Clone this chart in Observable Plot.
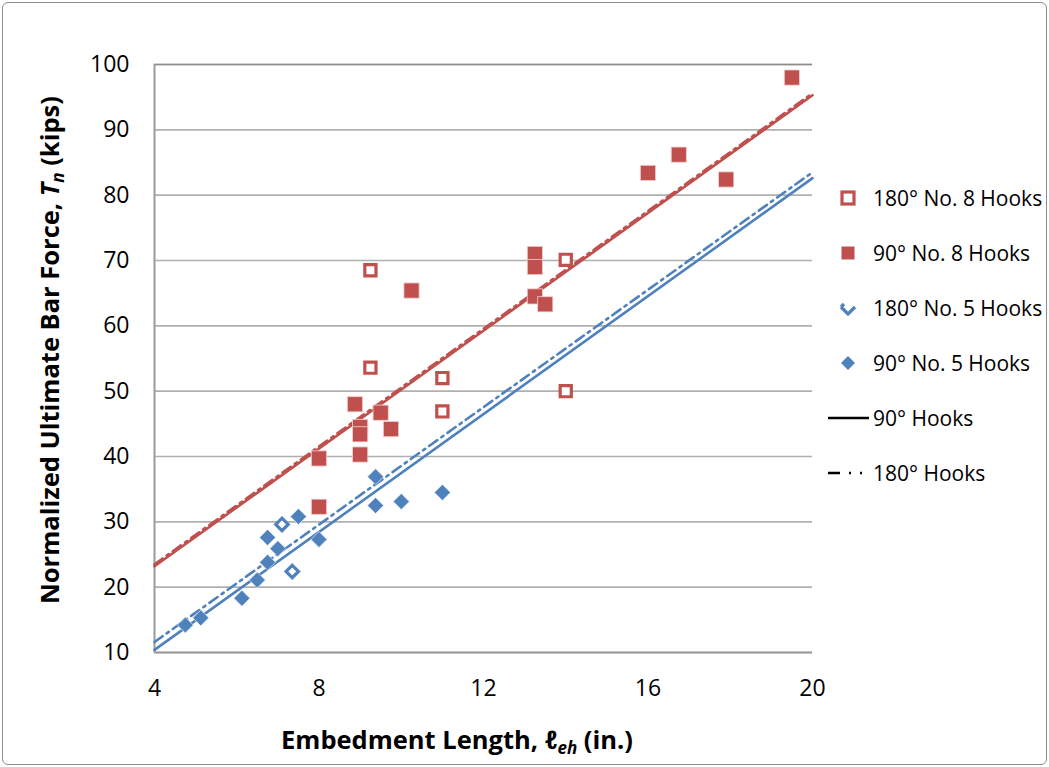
<!DOCTYPE html>
<html><head><meta charset="utf-8">
<script src="https://cdn.jsdelivr.net/npm/d3@7"></script>
<script src="https://cdn.jsdelivr.net/npm/@observablehq/plot@0.6"></script>
<style>
body{margin:0;background:#fff;font-family:"Open Sans",sans-serif;}
#wrap{position:relative;width:1049px;height:767px;overflow:hidden;}
#frame{position:absolute;left:2px;top:2px;width:1043px;height:761px;border:1px solid #8e8e8e;border-radius:6px;pointer-events:none;}
#wrap svg{position:absolute;left:0;top:0;}
</style></head><body><div id="wrap"><div id="frame"></div></div>
<script>
const red = "#C0504D", blue = "#4F81BD";

// 180° No. 8 Hooks (open red squares)
const x180No8 = [9.25, 9.25, 11, 11, 14, 14];
const y180No8 = [68.5, 53.6, 52.0, 46.9, 70.1, 50.0];
// 90° No. 8 Hooks (filled red squares)
const x90No8 = [8, 8, 8.875, 9, 9, 9, 9.5, 9.75, 10.25, 13.25, 13.25, 13.25, 13.5, 16, 16.75, 17.9, 19.5];
const y90No8 = [32.3, 39.7, 48.0, 44.5, 43.4, 40.3, 46.7, 44.2, 65.4, 71.0, 69.0, 64.5, 63.3, 83.4, 86.2, 82.4, 98.0];
// 180° No. 5 Hooks (open blue diamonds)
const x180No5 = [7.1, 7.35];
const y180No5 = [29.6, 22.4];
// 90° No. 5 Hooks (filled blue diamonds)
const x90No5 = [4.75, 5.125, 6.125, 6.5, 6.75, 6.75, 7.0, 7.5, 8, 9.375, 9.375, 10, 11];
const y90No5 = [14.2, 15.3, 18.3, 21.1, 23.8, 27.6, 25.9, 30.8, 27.3, 36.9, 32.5, 33.1, 34.5];

// Trend lines (fits) evaluated at the axis ends
const fitX = [4, 20];
const fit90No8 = [23.2, 95.3];
const fit180No8 = [23.5, 95.6];
const fit90No5 = [10.4, 82.6];
const fit180No5 = [11.6, 83.5];

const xTicks = [4, 8, 12, 16, 20];
const yTicks = [10, 20, 30, 40, 50, 60, 70, 80, 90, 100];

const legendLabels = ["180° No. 8 Hooks", "90° No. 8 Hooks", "180° No. 5 Hooks", "90° No. 5 Hooks", "90° Hooks", "180° Hooks"];

const pts = (xs, ys) => xs.map((x, i) => ({x, y: ys[i]}));
const fit = ys => fitX.map((x, i) => ({x, y: ys[i]}));
const dashDot = "10,5,2.5,5";

const plot = Plot.plot({
  width: 1049, height: 767,
  marginLeft: 154, marginRight: 237, marginTop: 64, marginBottom: 115,
  style: {fontFamily: "'Open Sans', sans-serif", fontSize: "22px", color: "#000", background: "transparent", overflow: "visible"},
  x: {domain: [4, 20]},
  y: {domain: [10, 100]},
  marks: [
    Plot.gridY(yTicks, {stroke: "#b0b0b0", strokeOpacity: 1, strokeWidth: 1.6}),
    Plot.ruleY([100], {stroke: "#8c8c8c", strokeWidth: 1.6}),
    Plot.ruleX([4], {stroke: "#9a9a9a", strokeWidth: 2}),
    Plot.ruleY([10], {stroke: "#9a9a9a", strokeWidth: 2}),
    Plot.axisX(xTicks, {tickSize: 0, tickPadding: 27, label: null, fontSize: 23}),
    Plot.axisY(yTicks, {tickSize: 0, tickPadding: 25, label: null, fontSize: 23}),
    Plot.line(fit(fit90No8), {x: "x", y: "y", stroke: red, strokeWidth: 2.6}),
    Plot.line(fit(fit180No8), {x: "x", y: "y", stroke: red, strokeWidth: 2.6, strokeDasharray: dashDot}),
    Plot.line(fit(fit90No5), {x: "x", y: "y", stroke: blue, strokeWidth: 2.6}),
    Plot.line(fit(fit180No5), {x: "x", y: "y", stroke: blue, strokeWidth: 2.6, strokeDasharray: dashDot}),
    Plot.dot(pts(x90No8, y90No8), {x: "x", y: "y", symbol: "square", r: 8.6, fill: red, stroke: "#f3d6d5", strokeWidth: 0.8}),
    Plot.dot(pts(x180No8, y180No8), {x: "x", y: "y", symbol: "square", r: 6.3, fill: "white", stroke: red, strokeWidth: 3.2}),
    Plot.dot(pts(x90No5, y90No5), {x: "x", y: "y", symbol: "diamond2", r: 7.2, fill: blue, stroke: "#dbe5f1", strokeWidth: 0.8}),
    Plot.dot(pts(x180No5, y180No5), {x: "x", y: "y", symbol: "diamond2", r: 5.6, fill: "white", stroke: blue, strokeWidth: 3.2})
  ]
});
document.getElementById("wrap").appendChild(plot);

const svg = d3.select(plot);
// x-axis title
const xt = svg.append("text").attr("x", 457).attr("y", 749).attr("text-anchor", "middle")
  .attr("font-weight", "bold").attr("font-size", 25.5).attr("fill", "#000");
xt.append("tspan").text("Embedment Length, ");
xt.append("tspan").attr("font-style", "italic").text("ℓ");
xt.append("tspan").attr("font-style", "italic").attr("font-size", 17).attr("dy", 5).text("eh");
xt.append("tspan").attr("dy", -5).text(" (in.)");
// y-axis title
const yt = svg.append("text").attr("transform", "translate(59,350) rotate(-90)").attr("text-anchor", "middle")
  .attr("font-weight", "bold").attr("font-size", 25.5).attr("fill", "#000");
yt.append("tspan").text("Normalized Ultimate Bar Force, ");
yt.append("tspan").attr("font-style", "italic").text("T");
yt.append("tspan").attr("font-style", "italic").attr("font-size", 17).attr("dy", 5).text("n");
yt.append("tspan").attr("dy", -5).text(" (kips)");

// legend
const lg = svg.append("g").attr("font-size", 21).attr("fill", "#000").attr("text-anchor", "start");
const ly = [198, 253, 308, 363, 418, 473];
const mx = 848;
lg.append("rect").attr("x", mx - 6).attr("y", ly[0] - 6).attr("width", 12).attr("height", 12).attr("fill", "white").attr("stroke", red).attr("stroke-width", 3.2);
lg.append("rect").attr("x", mx - 6.5).attr("y", ly[1] - 6.5).attr("width", 13).attr("height", 13).attr("fill", red);
lg.append("path").attr("d", `M${mx-7},${ly[2]-1} L${mx},${ly[2]+6} L${mx+7},${ly[2]-1} M${mx-7},${ly[2]-1} L${mx-4},${ly[2]-4}`).attr("fill", "none").attr("stroke", blue).attr("stroke-width", 3.2);
lg.append("path").attr("d", `M${mx},${ly[3]-7} L${mx+7},${ly[3]} L${mx},${ly[3]+7} L${mx-7},${ly[3]} Z`).attr("fill", blue);
lg.append("line").attr("x1", 828).attr("x2", 869).attr("y1", ly[4]).attr("y2", ly[4]).attr("stroke", "#000").attr("stroke-width", 2.6);
lg.append("line").attr("x1", 828).attr("x2", 869).attr("y1", ly[5]).attr("y2", ly[5]).attr("stroke", "#000").attr("stroke-width", 2.6).attr("stroke-dasharray", "12,9,2,9,2,20");
legendLabels.forEach((t, i) => {
  lg.append("text").attr("x", 873).attr("y", ly[i]).attr("dy", "0.36em").attr("text-anchor", "start").text(t);
});
</script>
</body></html>
